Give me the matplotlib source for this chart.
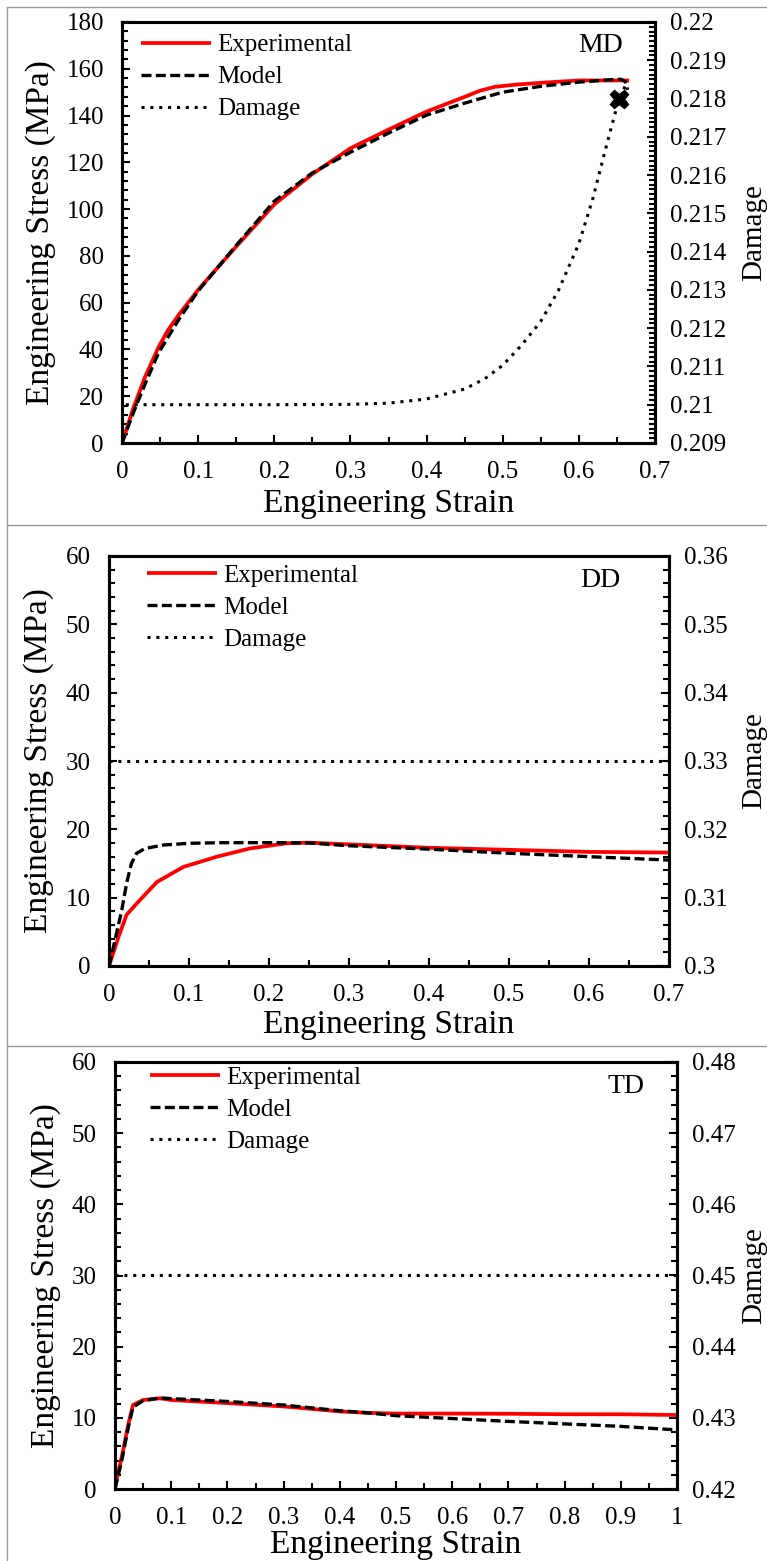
import numpy as np
import matplotlib
matplotlib.use("Agg")
import matplotlib.pyplot as plt
from matplotlib.ticker import MultipleLocator
from matplotlib.lines import Line2D

plt.rcParams['font.family'] = ['Liberation Serif', 'DejaVu Serif']

# --- MD ---
md_exp_x = [0, 0.015, 0.03, 0.048, 0.06, 0.075, 0.1, 0.15, 0.2, 0.25, 0.3, 0.35, 0.4,
            0.45, 0.47, 0.49, 0.52, 0.55, 0.6, 0.64, 0.666]
md_exp_y = [0, 15, 28, 41, 48, 55, 65.5, 84, 102, 115, 126, 134, 141.7,
            148, 150.6, 152.3, 153.3, 154, 155, 155, 155]
md_mod_x = [0, 0.015, 0.03, 0.048, 0.06, 0.075, 0.1, 0.15, 0.2, 0.25, 0.3, 0.35, 0.4,
            0.45, 0.5, 0.55, 0.6, 0.64, 0.655, 0.661, 0.664]
md_mod_y = [0, 13, 25, 38.5, 45, 53, 65, 84.5, 103.4, 115.5, 124.3, 132.5, 140.2,
            145.3, 150, 152.5, 154.3, 155.3, 155.5, 154.6, 151]
md_dmg_x = [0.005, 0.1, 0.2, 0.3, 0.35, 0.4, 0.45, 0.4766, 0.5, 0.525, 0.55, 0.573,
            0.6, 0.618, 0.634, 0.647, 0.653, 0.658, 0.663]
md_dmg_y = [0.21, 0.21, 0.21, 0.21001, 0.21004, 0.21015, 0.21041, 0.21068, 0.21103,
            0.21156, 0.21218, 0.21298, 0.21421, 0.21536, 0.2166, 0.21757, 0.2180,
            0.2182, 0.21843]
md_fail = (0.653, 0.2180)

# --- DD ---
dd_exp_x = [0, 0.012, 0.022, 0.039, 0.06, 0.093, 0.135, 0.176, 0.222, 0.25, 0.3,
            0.4, 0.5, 0.6, 0.7]
dd_exp_y = [0, 4.3, 7.5, 9.7, 12.3, 14.5, 16.0, 17.2, 17.96, 18.05, 17.8,
            17.3, 17.0, 16.7, 16.6]
dd_mod_x = [0, 0.0075, 0.016, 0.022, 0.028, 0.0346, 0.045, 0.068, 0.101, 0.143, 0.21,
            0.25, 0.3, 0.4, 0.5, 0.6, 0.7]
dd_mod_y = [0, 3.8, 8.2, 12.1, 15.0, 16.5, 17.2, 17.7, 17.96, 18.05, 18.05,
            18.0, 17.6, 17.1, 16.5, 16.0, 15.5]
dd_dmg_x = [0, 0.7]
dd_dmg_y = [0.33, 0.33]

# --- TD ---
td_exp_x = [0, 0.012, 0.024, 0.032, 0.05, 0.08, 0.1, 0.2, 0.3, 0.4, 0.45, 0.5,
            0.6, 0.7, 0.8, 0.9, 1.0]
td_exp_y = [0.3, 4.5, 9.2, 11.8, 12.5, 12.75, 12.5, 12.07, 11.6, 10.9, 10.7, 10.6,
            10.6, 10.57, 10.5, 10.5, 10.4]
td_mod_x = [0, 0.012, 0.024, 0.032, 0.05, 0.08, 0.1, 0.2, 0.3, 0.4, 0.45, 0.5,
            0.6, 0.7, 0.8, 0.9, 1.0]
td_mod_y = [0, 4.0, 8.8, 11.5, 12.4, 12.8, 12.7, 12.3, 11.8, 11.0, 10.7, 10.3,
            9.9, 9.5, 9.15, 8.8, 8.3]
td_dmg_x = [0, 1.0]
td_dmg_y = [0.45, 0.45]

W, H = 767, 1561
fig = plt.figure(figsize=(W / 100, H / 100), dpi=100)

panels = [
    dict(name='MD', box=(122, 22, 655, 443), xlim=(0, 0.7), ylim=(0, 180), ymaj=20, ymin=4,
         rlim=(0.209, 0.22), rmaj=0.001, rmin=0.000125, xmaj=0.1, xmin=0.05,
         exp=(md_exp_x, md_exp_y), mod=(md_mod_x, md_mod_y), dmg=(md_dmg_x, md_dmg_y),
         leg=(0.036, 0.972), txt=(0.897, 0.945), ylab=-0.152, xlab=-0.145,
         rfmt=lambda v: ('%.3f' % v).rstrip('0')),
    dict(name='DD', box=(109, 556, 669, 966), xlim=(0, 0.7), ylim=(0, 60), ymaj=10, ymin=2,
         rlim=(0.3, 0.36), rmaj=0.01, rmin=0.002, xmaj=0.1, xmin=0.05,
         exp=(dd_exp_x, dd_exp_y), mod=(dd_mod_x, dd_mod_y), dmg=(dd_dmg_x, dd_dmg_y),
         leg=(0.068, 0.98), txt=(0.878, 0.941), ylab=-0.125, xlab=-0.144,
         rfmt=lambda v: ('%.2f' % v).rstrip('0')),
    dict(name='TD', box=(115, 1062, 677, 1489), xlim=(0, 1.0), ylim=(0, 60), ymaj=10, ymin=2,
         rlim=(0.42, 0.48), rmaj=0.01, rmin=0.002, xmaj=0.1, xmin=0.05,
         exp=(td_exp_x, td_exp_y), mod=(td_mod_x, td_mod_y), dmg=(td_dmg_x, td_dmg_y),
         leg=(0.062, 0.99), txt=(0.909, 0.942), ylab=-0.123, xlab=-0.131,
         rfmt=lambda v: ('%.2f' % v).rstrip('0')),
]


def fmt_x(v):
    s = ('%.1f' % v)
    if s.endswith('.0'):
        s = s[:-2]
    return s


for p in panels:
    x0, y0, x1, y1 = p['box']
    ax = fig.add_axes([x0 / W, 1 - y1 / H, (x1 - x0) / W, (y1 - y0) / H])
    ax2 = ax.twinx()

    l1, = ax.plot(*p['exp'], color='#ff0000', lw=2.7, label='Experimental', zorder=3,
                  solid_capstyle='butt')
    l2, = ax.plot(*p['mod'], color='black', lw=2.4, dashes=(3, 1.3), label='Model', zorder=4)
    l3, = ax2.plot(*p['dmg'], color='black', lw=2.2, dashes=(1, 1.9), label='Damage')
    if p['name'] == 'MD':
        ax2.plot([md_fail[0]], [md_fail[1]], marker='X', ms=13, color='black', mec='black')

    ax.set_xlim(*p['xlim'])
    ax.set_ylim(*p['ylim'])

    ax.xaxis.set_minor_locator(MultipleLocator(p['xmin']))
    ax.yaxis.set_major_locator(MultipleLocator(p['ymaj']))
    ax.yaxis.set_minor_locator(MultipleLocator(p['ymin']))
    ax2.yaxis.set_minor_locator(MultipleLocator(p['rmin']))

    xt = np.round(np.arange(p['xlim'][0], p['xlim'][1] + 1e-9, p['xmaj']), 3)
    ax.set_xticks(xt)
    ax.set_xticklabels([fmt_x(v) for v in xt])
    rt = np.round(np.arange(p['rlim'][0], p['rlim'][1] + 1e-9, p['rmaj']), 4)
    ax2.set_yticks(rt)
    ax2.set_yticklabels([p['rfmt'](v) for v in rt])
    ax2.set_ylim(*p['rlim'])

    for a in (ax, ax2):
        a.tick_params(which='both', direction='in', labelsize=18, pad=13, width=1.5,
                      top=False)
        a.tick_params(which='major', length=6)
        a.tick_params(which='minor', length=4)
        for s in a.spines.values():
            s.set_linewidth(2.2)
    ax2.tick_params(axis='y', pad=11)

    ax.set_xlabel('Engineering Strain', fontsize=24, va='center')
    ax.xaxis.set_label_coords(0.5, p['xlab'])
    ax.set_ylabel('Engineering Stress (MPa)', fontsize=24, va='center')
    ax.yaxis.set_label_coords(p['ylab'], 0.5)
    ax2.set_ylabel('Damage', fontsize=21, va='center', rotation=90)
    ax2.yaxis.set_label_coords((754 - x0) / (x1 - x0), 0.5)

    ax.text(p['txt'][0], p['txt'][1], p['name'], transform=ax.transAxes,
            fontsize=20, ha='center', va='center')

    ax2.legend(handles=[l1, l2, l3], loc='upper left', bbox_to_anchor=p['leg'],
               frameon=False, fontsize=18, handlelength=2.8, handletextpad=0.25,
               labelspacing=0.38, borderpad=0, borderaxespad=0)

# thin grey frame lines
grey = '#9a9a9a'
for yy in (7, 525, 1046):
    fig.add_artist(Line2D([7 / W, 1], [1 - yy / H, 1 - yy / H], color=grey, lw=1))
fig.add_artist(Line2D([7 / W, 7 / W], [0, 1 - 7 / H], color=grey, lw=1))

fig.savefig('out.png', dpi=100)
